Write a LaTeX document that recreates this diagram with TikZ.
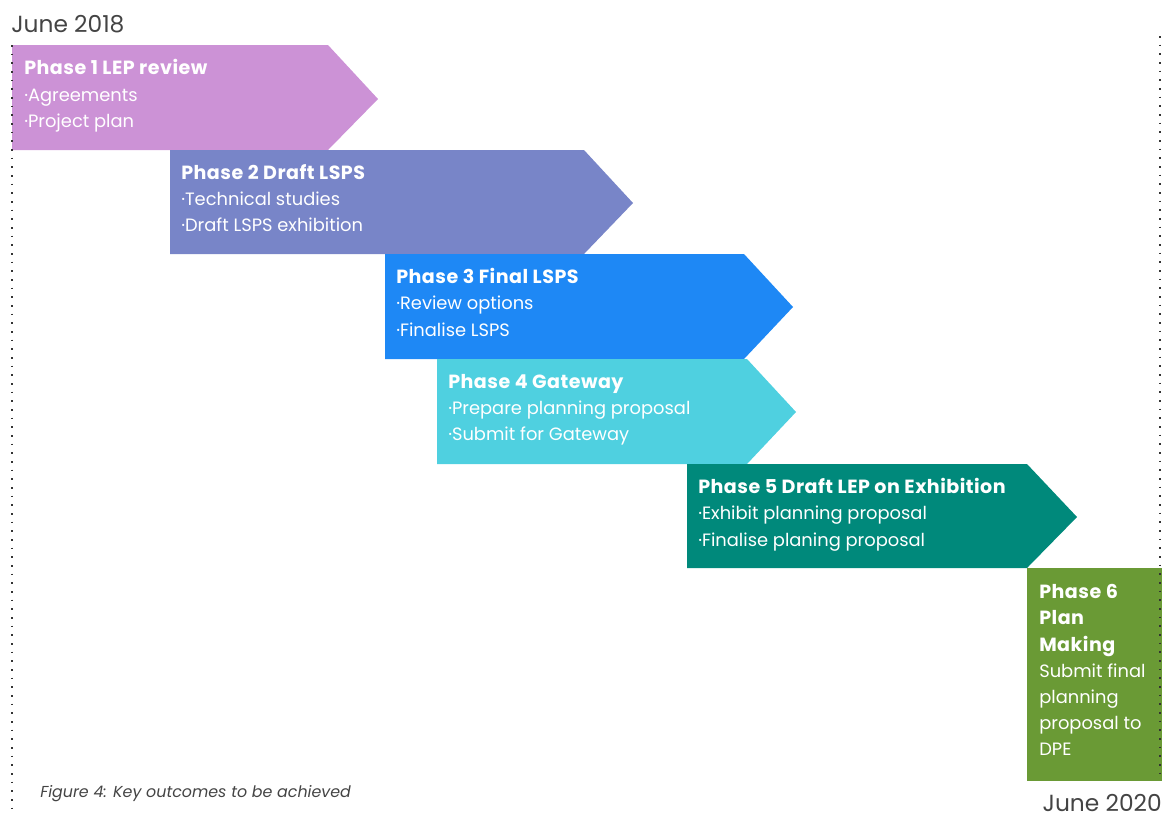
\documentclass[tikz,border=0pt]{standalone}
\usepackage{fontspec}
\setmainfont{Poppins}
\newfontfamily\headfont{Poppins}[LetterSpace=2.5]
\definecolor{cone}{HTML}{CC92D6}
\definecolor{ctwo}{HTML}{7885C8}
\definecolor{cthree}{HTML}{1E88F5}
\definecolor{cfour}{HTML}{4FD0E0}
\definecolor{cfive}{HTML}{00897B}
\definecolor{csix}{HTML}{6A9A35}
\definecolor{dategray}{HTML}{444444}
\tikzset{
  head/.style={anchor=base west, inner sep=0pt, text=white, font=\headfont\fontsize{14.3}{16}\selectfont\bfseries},
  bodytxt/.style={anchor=base west, inner sep=0pt, text=white, font=\fontsize{13.4}{16}\selectfont},
  datetxt/.style={inner sep=0pt, text=dategray, font=\fontsize{17.5}{22}\selectfont},
  timeline/.style={line width=1.3pt, dash pattern=on 1.3pt off 5.2pt, black!80}
}
\begin{document}
\begin{tikzpicture}[x=0.75pt,y=-0.75pt]
\useasboundingbox (0,0) rectangle (1166,819);
% arrows
\fill[cone]   (12,45)  -- (328,45)  -- (378,99)  -- (328,150) -- (12,150) -- cycle;
\fill[ctwo]   (170,150) -- (584,150) -- (633,203) -- (584,254) -- (170,254) -- cycle;
\fill[cthree] (385,254) -- (744,254) -- (793,307) -- (744,359) -- (385,359) -- cycle;
\fill[cfour]  (437,359) -- (747,359) -- (796,412) -- (747,464) -- (437,464) -- cycle;
\fill[cfive]  (687,464) -- (1027,464) -- (1077,517) -- (1027,568) -- (687,568) -- cycle;
\fill[csix]   (1027,568) rectangle (1162,781);
% timelines
\coordinate (ltop) at (12,45);
\coordinate (lbot) at (12,816);
\coordinate (rtop) at (1160,36);
\coordinate (rbot) at (1160,780);
\draw[timeline] (ltop) -- (lbot);
\draw[timeline] (rtop) -- (rbot);
% dates
\node[datetxt, anchor=base west] (d1) at (11,32) {June 2018};
\node[datetxt, anchor=base east] (d2) at (1162,811) {June 2020};
% phase 1
\node[head] (p1h) at (24,74) {Phase 1 LEP review};
\node[bodytxt] (p1a) at (24,101) {·Agreements};
\node[bodytxt] (p1b) at (24,127) {·Project plan};
% phase 2
\node[head] (p2h) at (181,179) {Phase 2 Draft LSPS};
\node[bodytxt] (p2a) at (181,205) {·Technical studies};
\node[bodytxt] (p2b) at (181,231) {·Draft LSPS exhibition};
% phase 3
\node[head] (p3h) at (396,283) {Phase 3 Final LSPS};
\node[bodytxt] (p3a) at (396,309) {·Review options};
\node[bodytxt] (p3b) at (396,336) {·Finalise LSPS};
% phase 4
\node[head] (p4h) at (448,388) {Phase 4 Gateway};
\node[bodytxt] (p4a) at (448,414) {·Prepare planning proposal};
\node[bodytxt] (p4b) at (448,440) {·Submit for Gateway};
% phase 5
\node[head] (p5h) at (698,493) {Phase 5 Draft LEP on Exhibition};
\node[bodytxt] (p5a) at (698,519) {·Exhibit planning proposal};
\node[bodytxt] (p5b) at (698,546) {·Finalise planing proposal};
% phase 6
\node[head] (p6a) at (1039,598) {Phase 6};
\node[head] (p6b) at (1039,624) {Plan};
\node[head] (p6c) at (1039,651) {Making};
\node[bodytxt] (p6d) at (1039,677) {Submit final};
\node[bodytxt] (p6e) at (1039,703) {planning};
\node[bodytxt] (p6f) at (1039,729) {proposal to};
\node[bodytxt] (p6g) at (1039,755) {DPE};
% caption
\node[anchor=base west, inner sep=0pt, text=dategray, font=\fontsize{11.9}{14}\selectfont\itshape] (cap) at (40,797) {Figure 4: Key outcomes to be achieved};
\end{tikzpicture}
\end{document}
